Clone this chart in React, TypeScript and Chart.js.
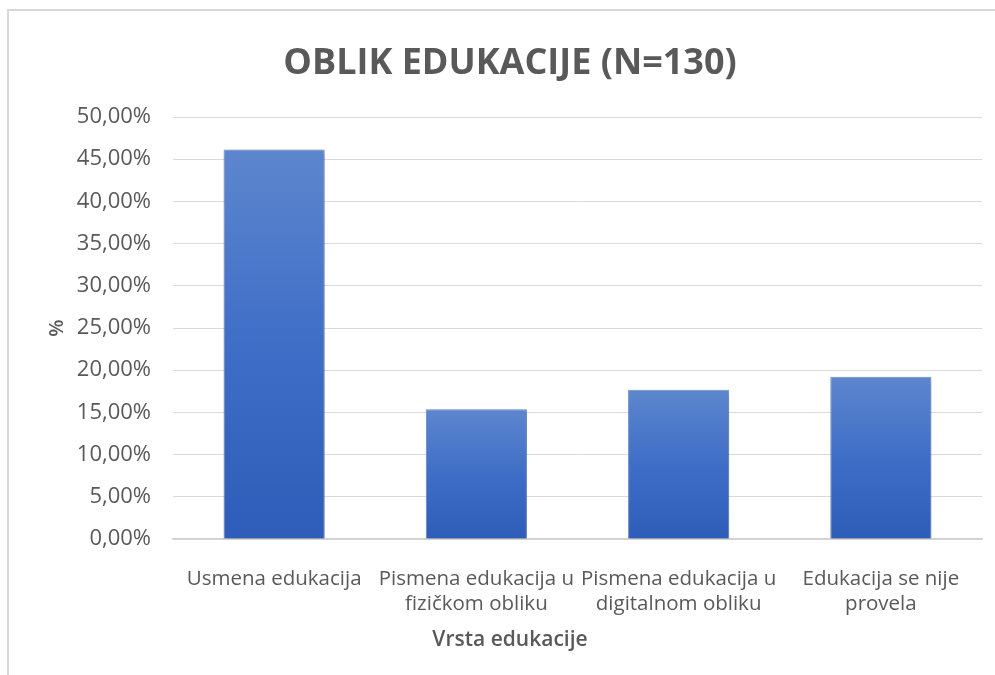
import React, { useEffect, useRef } from "react";
import { Chart, registerables } from "chart.js";

Chart.register(...registerables);

const categories: (string | string[])[] = [
  "Usmena edukacija",
  ["Pismena edukacija u", "fizičkom obliku"],
  ["Pismena edukacija u", "digitalnom obliku"],
  ["Edukacija se nije", "provela"],
];
const percentValues = [46.15, 15.38, 17.69, 19.23];
const yMin = 0;
const yMax = 50;
const yStep = 5;
const chartTitle = "OBLIK EDUKACIJE (N=130)";
const xAxisTitle = "Vrsta edukacije";
const yAxisTitle = "%";

const TEXT = "#595959";
const FONT = "'Open Sans', 'DejaVu Sans', sans-serif";

export default function App() {
  const ref = useRef<HTMLCanvasElement | null>(null);

  useEffect(() => {
    document.body.style.margin = "0";
    const canvas = ref.current;
    if (!canvas) return;

    const decor = {
      id: "decor",
      beforeDraw(chart: any) {
        const c = chart.ctx;
        c.save();
        c.fillStyle = "#ffffff";
        c.fillRect(0, 0, chart.width, chart.height);
        c.strokeStyle = "#d9d9d9";
        c.lineWidth = 2;
        c.strokeRect(8, 10, 3000, 3000);
        c.restore();
      },
      beforeDatasetsDraw(chart: any) {
        const c = chart.ctx;
        c.save();
        c.shadowColor = "rgba(0,0,0,0.35)";
        c.shadowBlur = 5;
        c.shadowOffsetX = 1;
        c.shadowOffsetY = 2;
      },
      afterDatasetsDraw(chart: any) {
        chart.ctx.restore();
      },
      afterDraw(chart: any) {
        const c = chart.ctx;
        c.save();
        c.fillStyle = TEXT;
        c.textAlign = "center";
        c.textBaseline = "middle";
        c.font = `bold 36px ${FONT}`;
        c.fillText(chartTitle, 510, 64);
        c.font = `600 21px ${FONT}`;
        c.fillText(xAxisTitle, 510, 640);
        c.restore();
      },
    };

    const chart = new Chart(canvas, {
      type: "bar",
      data: {
        labels: categories,
        datasets: [
          {
            data: percentValues,
            backgroundColor: (ctx: any) => {
              const ch = ctx.chart;
              const y = ch.scales && ch.scales.y;
              if (!ch.chartArea || !y) return "#4472c4";
              const top = y.getPixelForValue(ctx.raw);
              const bottom = y.getPixelForValue(0);
              const g = ch.ctx.createLinearGradient(0, top, 0, bottom);
              g.addColorStop(0, "#5d86cd");
              g.addColorStop(0.5, "#3f6ec7");
              g.addColorStop(1, "#2d5db8");
              return g;
            },
            borderColor: "rgba(100,140,210,0.9)",
            borderWidth: 1,
            categoryPercentage: 0.5,
            barPercentage: 1,
          },
        ],
      },
      options: {
        animation: false,
        responsive: false,
        devicePixelRatio: 1,
        layout: { padding: { left: 0, right: 13, top: 117, bottom: 26 } },
        plugins: {
          legend: { display: false },
          title: { display: false },
          tooltip: { enabled: false },
        },
        scales: {
          x: {
            grid: { display: false },
            border: { display: true, color: "#d0d0d0", width: 1.5 },
            ticks: {
              color: TEXT,
              font: { family: FONT, size: 20.5, lineHeight: 1.25 },
              padding: 19,
              maxRotation: 0,
              minRotation: 0,
              autoSkip: false,
            },
            afterFit: (scale: any) => {
              scale.height = 110;
            },
          },
          y: {
            min: yMin,
            max: yMax,
            grid: { color: "#d9d9d9", drawTicks: false, lineWidth: 1 },
            border: { display: false },
            ticks: {
              stepSize: yStep,
              color: TEXT,
              font: { family: FONT, size: 22 },
              padding: 22,
              callback: (v: any) => Number(v).toFixed(2).replace(".", ",") + "%",
            },
            title: {
              display: true,
              text: yAxisTitle,
              color: TEXT,
              font: { family: FONT, size: 20, weight: "600", lineHeight: 1.2 },
              padding: { top: 45, bottom: 0 },
            },
            afterFit: (scale: any) => {
              scale.width = 173;
            },
          },
        },
      },
      plugins: [decor],
    } as any);

    return () => chart.destroy();
  }, []);

  return (
    <canvas
      ref={ref}
      width={995}
      height={675}
      style={{ display: "block", width: 995, height: 675 }}
    />
  );
}
